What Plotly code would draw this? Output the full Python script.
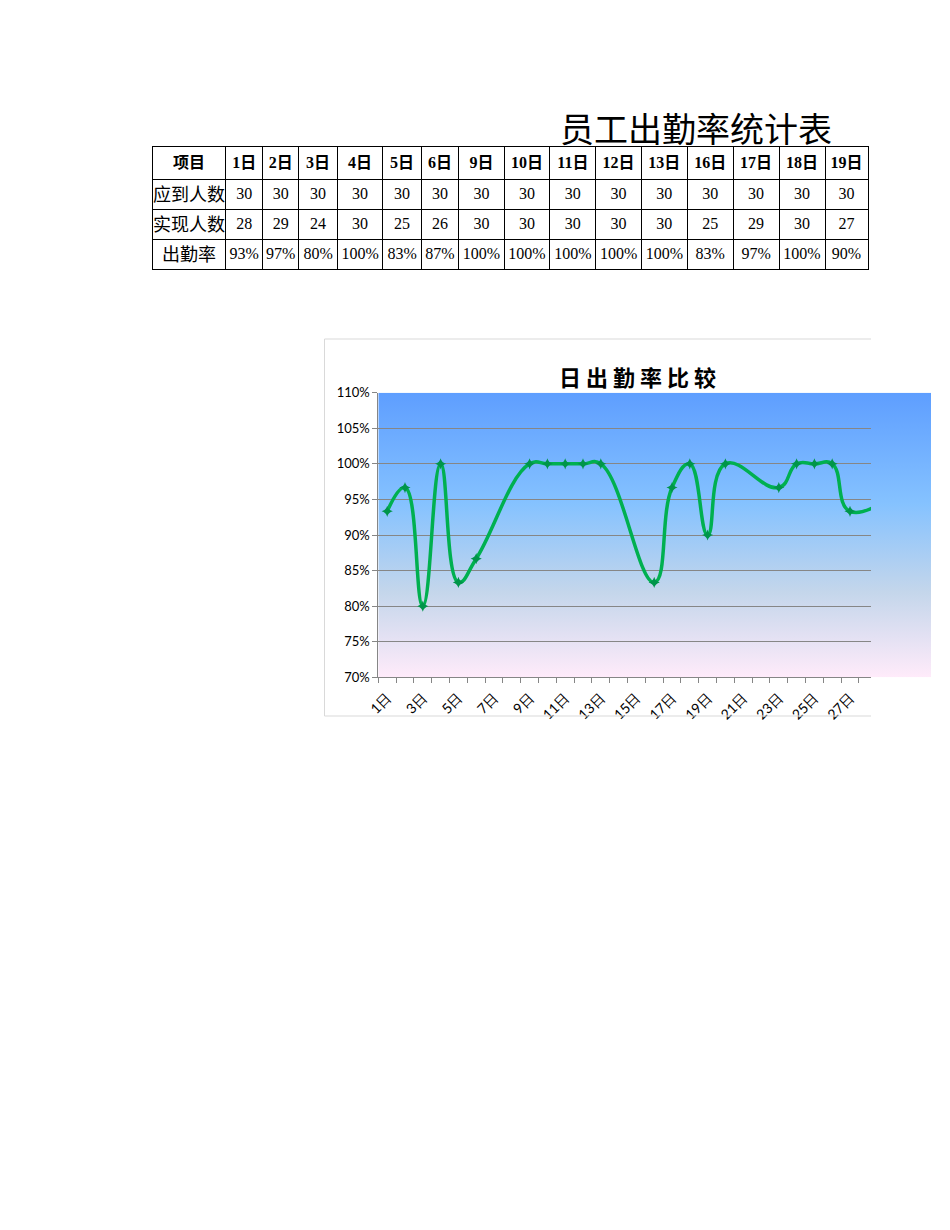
import base64
import plotly.graph_objects as go

W, H = 950, 1230

# ---------------- data ----------------
table_title = "员工出勤率统计表"
row_items = ["项目", "应到人数", "实现人数", "出勤率"]
table_days = ["1日", "2日", "3日", "4日", "5日", "6日", "9日", "10日", "11日",
              "12日", "13日", "16日", "17日", "18日", "19日"]
table_expected = [30, 30, 30, 30, 30, 30, 30, 30, 30, 30, 30, 30, 30, 30, 30]
table_actual = [28, 29, 24, 30, 25, 26, 30, 30, 30, 30, 30, 25, 29, 30, 27]
table_rate_text = ["93%", "97%", "80%", "100%", "83%", "87%", "100%", "100%", "100%",
                   "100%", "100%", "83%", "97%", "100%", "90%"]

chart_title = "日 出 勤 率 比 较"
chart_days = [1, 2, 3, 4, 5, 6, 9, 10, 11, 12, 13, 16, 17, 18, 19, 20, 23, 24, 25, 26, 27, 30]
chart_rates = [0.9333, 0.9667, 0.80, 1.00, 0.8333, 0.8667, 1.00, 1.00, 1.00, 1.00, 1.00,
               0.8333, 0.9667, 1.00, 0.90, 1.00, 0.9667, 1.00, 1.00, 1.00, 0.9333, 0.9667]
x_tick_days = [1, 3, 5, 7, 9, 11, 13, 15, 17, 19, 21, 23, 25, 27, 29]
x_tick_labels = ["1日", "3日", "5日", "7日", "9日", "11日", "13日", "15日", "17日",
                 "19日", "21日", "23日", "25日", "27日", "29日"]
y_ticks = [0.70, 0.75, 0.80, 0.85, 0.90, 0.95, 1.00, 1.05, 1.10]
y_tick_labels = ["70%", "75%", "80%", "85%", "90%", "95%", "100%", "105%", "110%"]


def fx(px):
    return px / W


def fy(py):
    return 1 - py / H


fig = go.Figure()

# ---------------- table ----------------
col_bounds = [152, 226, 262.5, 299, 337.3, 383, 421.3, 459, 504.3, 550, 596,
              641.5, 687.5, 733.3, 779.3, 825.3, 868.3]
col_widths = [col_bounds[i + 1] - col_bounds[i] for i in range(len(col_bounds) - 1)]

header_vals = ["<b>" + v + "</b>" for v in [row_items[0]] + table_days]
cell_cols = [row_items[1:]]
for e, a, r in zip(table_expected, table_actual, table_rate_text):
    cell_cols.append([str(e), str(a), r])

serif = "Liberation Serif, Noto Sans CJK SC"
fig.add_trace(go.Table(
    domain=dict(x=[fx(col_bounds[0]), fx(col_bounds[-1])], y=[fy(300), fy(146)]),
    columnwidth=col_widths,
    header=dict(values=header_vals, height=30, align="center",
                line=dict(color="black", width=1), fill=dict(color="white"),
                font=dict(family=serif, size=16, color="black")),
    cells=dict(values=cell_cols, height=30, align="center",
               line=dict(color="black", width=1), fill=dict(color="white"),
               font=dict(family=serif, size=[18] + [16] * len(table_days), color="black")),
))

# ---------------- chart ----------------
fig.add_trace(go.Scatter(
    x=chart_days, y=chart_rates, mode="lines+markers",
    line=dict(color="#00B050", width=3.5, shape="spline", smoothing=1.3),
    marker=dict(symbol="star-diamond", size=8, color="#00954A"),
    showlegend=False, hoverinfo="skip",
))

plot_l, plot_r, plot_t, plot_b = 378.3, 871, 392.7, 677.3
grid_col = "#868686"
ytick_font = dict(family="Lato, Liberation Sans", size=13, color="black")
xtick_font = dict(family="Lato, Liberation Sans", size=14, color="black")

fig.update_layout(
    width=W, height=H, margin=dict(l=0, r=0, t=0, b=0, autoexpand=False),
    paper_bgcolor="white", plot_bgcolor="rgba(0,0,0,0)",
    showlegend=False,
    xaxis=dict(domain=[fx(plot_l), fx(plot_r)], range=[0.5, 28.18], automargin=False,
               tickmode="array", tickvals=x_tick_days, ticktext=x_tick_labels,
               tickangle=-45, ticks="", tickfont=xtick_font, ticklabelstandoff=6,
               showgrid=False, zeroline=False,
               showline=True, linecolor=grid_col, linewidth=1,
               minor=dict(tickvals=[d + 0.5 for d in range(0, 29)], ticks="outside",
                          ticklen=5, tickcolor=grid_col, showgrid=False)),
    yaxis=dict(domain=[fy(plot_b), fy(plot_t)], range=[0.70, 1.10], automargin=False,
               tickmode="array", tickvals=y_ticks, ticktext=y_tick_labels,
               ticks="outside", ticklen=5, tickcolor=grid_col, tickfont=ytick_font,
               showgrid=True, gridcolor=grid_col, gridwidth=1, zeroline=False,
               showline=True, linecolor=grid_col, linewidth=1),
)

# gradient plot-area fill (Excel "Daybreak" preset)
svg = ('<svg xmlns="http://www.w3.org/2000/svg" width="100" height="100" viewBox="0 0 100 100" '
       'preserveAspectRatio="none"><defs><linearGradient id="g" x1="0" y1="0" x2="0" y2="1">'
       '<stop offset="0" stop-color="#5E9EFF"/><stop offset="0.39" stop-color="#85C2FF"/>'
       '<stop offset="0.7" stop-color="#C4D6EB"/><stop offset="1" stop-color="#FFEBFA"/>'
       '</linearGradient></defs><rect width="100" height="100" fill="url(#g)"/></svg>')
src = "data:image/svg+xml;base64," + base64.b64encode(svg.encode()).decode()
fig.add_layout_image(dict(source=src, xref="paper", yref="paper",
                          x=fx(plot_l), y=fy(plot_t), sizex=fx(931) - fx(plot_l),
                          sizey=fy(plot_t) - fy(plot_b), xanchor="left", yanchor="top",
                          sizing="stretch", layer="below"))

# chart frame (right edge cut off)
frame_col = "#D9D9D9"
for (x0, y0, x1, y1) in [(324.5, 339, 871, 339), (324.5, 339, 324.5, 716), (324.5, 716, 871, 716)]:
    fig.add_shape(type="line", xref="paper", yref="paper", x0=fx(x0), y0=fy(y0), x1=fx(x1), y1=fy(y1),
                  line=dict(color=frame_col, width=1))

# titles
fig.add_annotation(text=table_title, xref="paper", yref="paper", x=fx(696), y=fy(128),
                   showarrow=False, xanchor="center", yanchor="middle",
                   font=dict(family="Noto Sans CJK SC", size=34, color="black"))
fig.add_annotation(text="<b>" + chart_title + "</b>", xref="paper", yref="paper", x=fx(637), y=fy(376),
                   showarrow=False, xanchor="center", yanchor="middle",
                   font=dict(family="Noto Sans CJK SC", size=22, color="black"))

fig.write_html("out.html", config={"displayModeBar": False},
               post_script="document.body.style.margin='0';")
